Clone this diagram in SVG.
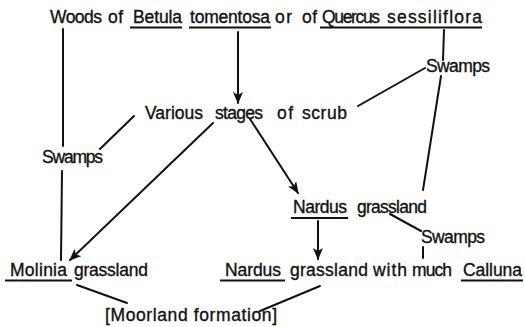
<svg xmlns="http://www.w3.org/2000/svg" width="525" height="327" viewBox="0 0 525 327">
<style>
text{font-family:"Liberation Sans","Noto Sans CJK JP",sans-serif;font-size:17.5px;fill:#111;stroke:#111;stroke-width:0.35}
.c line{stroke:#111;stroke-width:2;fill:none;stroke-linecap:round}
.u{stroke:#111;stroke-width:2}
</style>
<defs>
<marker id="ah" viewBox="0 0 12 10" refX="11" refY="5" markerWidth="12" markerHeight="10" markerUnits="userSpaceOnUse" orient="auto">
<path d="M0,0 L12,5 L0,10 L3,5 Z" fill="#111"/>
</marker>
</defs>
<rect width="525" height="327" fill="#fff"/>
<g class="c" id="connectors">
<line x1="63" y1="29" x2="63" y2="146"/>
<line x1="62" y1="171" x2="61" y2="260"/>
<line x1="238" y1="32" x2="238" y2="103" marker-end="url(#ah)"/>
<line x1="444" y1="30" x2="443" y2="60"/>
<line x1="425" y1="68" x2="358" y2="106"/>
<line x1="441" y1="76" x2="423" y2="190"/>
<line x1="100" y1="149" x2="134" y2="116"/>
<line x1="213" y1="123" x2="70" y2="260" marker-end="url(#ah)"/>
<line x1="250" y1="119" x2="298" y2="193" marker-end="url(#ah)"/>
<line x1="318" y1="221" x2="318" y2="259" marker-end="url(#ah)"/>
<line x1="390" y1="214" x2="421" y2="231"/>
<line x1="423" y1="247" x2="423" y2="258"/>
<line x1="77" y1="285" x2="127" y2="303"/>
<line x1="320" y1="286" x2="260" y2="311"/>
</g>
<g id="woods">
<text y="23"><tspan x="50" textLength="52" lengthAdjust="spacing">Woods</tspan><tspan x="108" textLength="15" lengthAdjust="spacing">of</tspan><tspan x="133" textLength="49" lengthAdjust="spacing">Betula</tspan><tspan x="190" textLength="80" lengthAdjust="spacing">tomentosa</tspan><tspan x="275" textLength="17" lengthAdjust="spacing">or</tspan><tspan x="302" textLength="15" lengthAdjust="spacing">of</tspan><tspan x="322" textLength="58" lengthAdjust="spacing">Quercus</tspan><tspan x="387" textLength="95" lengthAdjust="spacing">sessiliflora</tspan></text>
<line class="u" x1="130" y1="27.5" x2="182" y2="27.5"/>
<line class="u" x1="189" y1="27.5" x2="271" y2="27.5"/>
<line class="u" x1="320" y1="27.5" x2="482" y2="27.5"/>
</g>
<g id="swamps-top"><text x="426" y="72" textLength="64" lengthAdjust="spacing">Swamps</text></g>
<g id="scrub"><text y="119"><tspan x="145" textLength="58" lengthAdjust="spacing">Various</tspan><tspan x="215" textLength="48" lengthAdjust="spacing">stages</tspan><tspan x="277" textLength="16" lengthAdjust="spacing">of</tspan><tspan x="302" textLength="45" lengthAdjust="spacing">scrub</tspan></text></g>
<g id="swamps-left"><text x="42" y="163" textLength="61" lengthAdjust="spacing">Swamps</text></g>
<g id="nardus"><text y="213"><tspan x="293" textLength="54" lengthAdjust="spacing">Nardus</tspan><tspan x="357" textLength="70" lengthAdjust="spacing">grassland</tspan></text>
<line class="u" x1="291" y1="218" x2="348" y2="218"/></g>
<g id="swamps-low"><text x="421" y="243" textLength="64" lengthAdjust="spacing">Swamps</text></g>
<g id="molinia"><text y="276"><tspan x="10" textLength="57" lengthAdjust="spacing">Molinia</tspan><tspan x="74" textLength="74" lengthAdjust="spacing">grassland</tspan></text>
<line class="u" x1="5" y1="280.5" x2="72" y2="280.5"/></g>
<g id="nardus-calluna"><text y="276"><tspan x="225" textLength="56" lengthAdjust="spacing">Nardus</tspan><tspan x="290" textLength="78" lengthAdjust="spacing">grassland</tspan><tspan x="373" textLength="34" lengthAdjust="spacing">with</tspan><tspan x="412" textLength="40" lengthAdjust="spacing">much</tspan><tspan x="463" textLength="59" lengthAdjust="spacing">Calluna</tspan></text>
<line class="u" x1="220" y1="280.5" x2="285" y2="280.5"/>
<line class="u" x1="461" y1="280.5" x2="523" y2="280.5"/></g>
<g id="moorland"><text x="105" y="321" textLength="172" lengthAdjust="spacing">[Moorland formation]</text></g>
</svg>
